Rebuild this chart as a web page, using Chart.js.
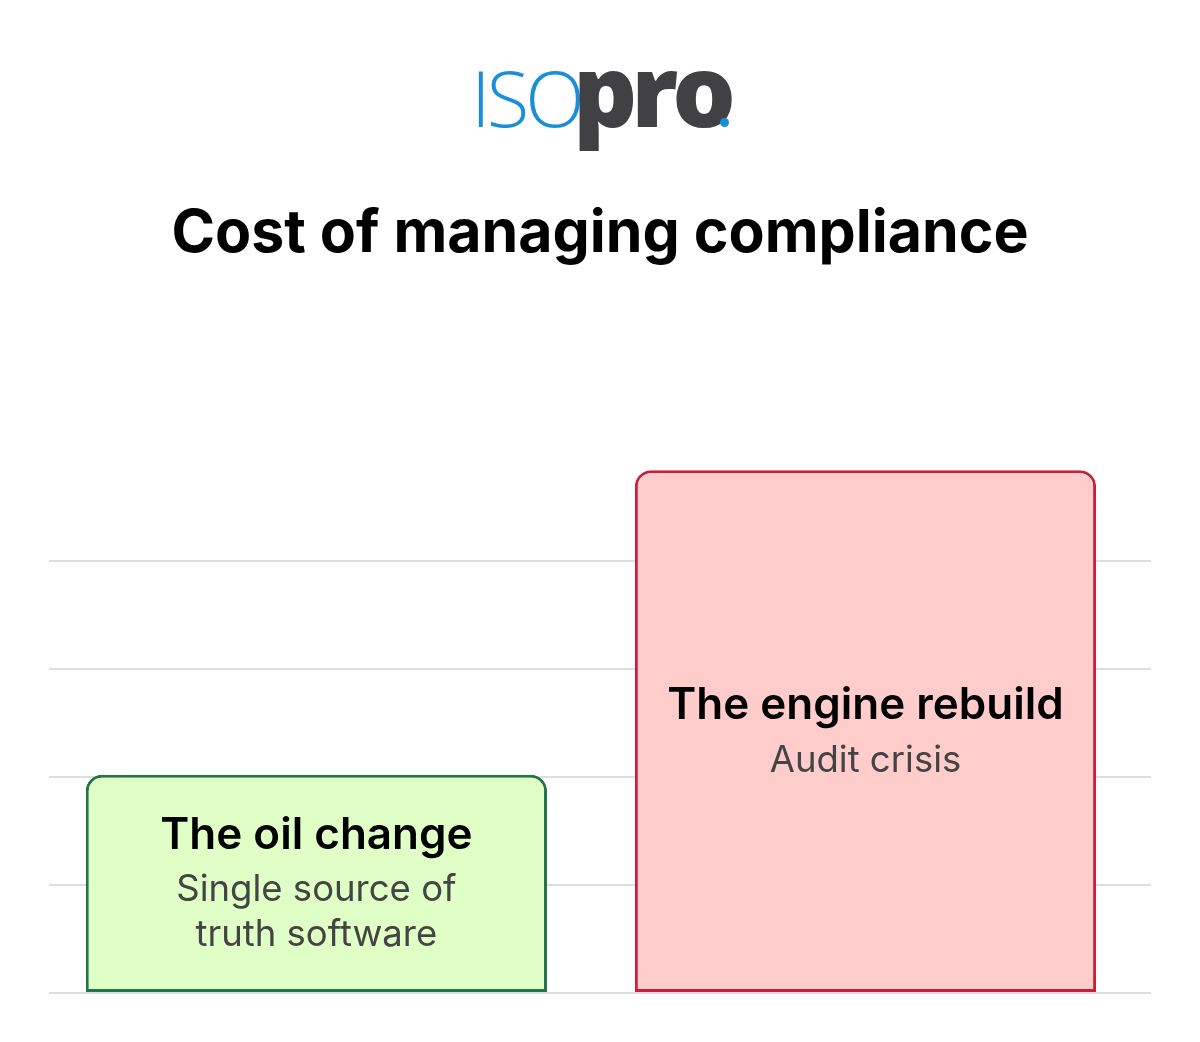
<html>
<head>
    <style>
        body { margin: 0; background: #fff; font-family: Inter, sans-serif; }
        #wrap { position: relative; width: 1200px; height: 1042px; }
        #logo { position: absolute; left: 0; top: 20px; width: 1200px; text-align: center; white-space: nowrap; }
        #logo .iso { font-family: "Open Sans", sans-serif; font-weight: 300; font-size: 78px; color: #1a8fd8; letter-spacing: -4px; margin-right: -8px; }
        #logo .pro { font-family: "Open Sans", sans-serif; font-weight: 800; font-size: 100px; color: #414042; letter-spacing: -6px; }
        #logo .dot { display: inline-block; width: 9px; height: 9px; border-radius: 50%; background: #1a8fd8; margin-left: -10px; }
        #title { position: absolute; left: 0; top: 201px; width: 1200px; text-align: center; margin: 0; font-size: 59px; line-height: 1; font-weight: 700; color: #000; }
        #myChart { position: absolute; left: 0; top: 0; }
    </style>
    <script src="https://cdn.jsdelivr.net/npm/chart.js@4"></script>
    <script>
        // Chart values
        var positions = [0, 1];
        var costs = [2.02, 4.84];
        var bar_titles = ["The oil change", "The engine rebuild"];
        var bar_subtitles = [["Single source of", "truth software"], ["Audit crisis"]];
        var grid_ticks = [0, 1, 2, 3, 4];

        var fill_colors = ["#dfffc6", "#ffcccc"];
        var border_colors = ["#22744a", "#c8203a"];

        // writes the text blocks in the middle of each bar
        var barText = {
            id: "barText",
            afterDatasetsDraw: function(chart) {
                var ctx = chart.ctx;
                var bars = chart.getDatasetMeta(0).data;

                ctx.save();
                ctx.textAlign = "center";
                ctx.textBaseline = "middle";

                for (var i = 0; i < bars.length; i++) {
                    var b = bars[i];
                    var mid = (b.y + b.base) / 2;
                    var subs = bar_subtitles[i];
                    var total = 55 + (subs.length - 1) * 45;
                    var y = mid - total / 2 + 2;

                    ctx.fillStyle = "#000";
                    ctx.font = "600 44px Inter";
                    ctx.fillText(bar_titles[i], b.x, y);

                    ctx.fillStyle = "#444";
                    ctx.font = "400 36.5px Inter";
                    for (var j = 0; j < subs.length; j++) {
                        ctx.fillText(subs[j], b.x, y + 55 + j * 45);
                    }
                }
                ctx.restore();
            }
        };

        function load() {
            var ctx = document.getElementById("myChart").getContext("2d");
            var data = [];
            for (var i = 0; i < positions.length; i++) {
                data.push({ x: positions[i], y: costs[i] });
            }

            new Chart(ctx, {
                type: "bar",
                data: {
                    datasets: [{
                        data: data,
                        backgroundColor: fill_colors,
                        borderColor: border_colors,
                        borderWidth: 3,
                        borderSkipped: false,
                        borderRadius: { topLeft: 16, topRight: 16, bottomLeft: 0, bottomRight: 0 },
                        barPercentage: 0.84,
                        categoryPercentage: 1
                    }]
                },
                options: {
                    responsive: false,
                    animation: false,
                    layout: { padding: { top: 453, left: 49, right: 49, bottom: 49 } },
                    plugins: {
                        legend: { display: false },
                        tooltip: { enabled: false }
                    },
                    scales: {
                        x: {
                            type: "linear",
                            min: -0.487,
                            max: 1.52,
                            offset: false,
                            display: false,
                            // only the two bar positions, so the bar width comes from their spacing
                            afterBuildTicks: function(axis) {
                                axis.ticks = positions.map(function(v) { return { value: v }; });
                            }
                        },
                        y: {
                            min: 0,
                            max: 5,
                            afterBuildTicks: function(axis) {
                                axis.ticks = grid_ticks.map(function(v) { return { value: v }; });
                            },
                            ticks: { display: false },
                            border: { display: false },
                            grid: { color: "#dddddd", lineWidth: 2, drawTicks: false }
                        }
                    }
                },
                plugins: [barText]
            });
        }
    </script>
</head>
<body>
<div id="wrap">
    <div id="logo"><span class="iso">ISO</span><span class="pro">pro</span><span class="dot"></span></div>
    <h1 id="title">Cost of managing compliance</h1>
    <canvas id="myChart" width="1200" height="1042"></canvas>
</div>
<script>load();</script>
</body>
</html>
